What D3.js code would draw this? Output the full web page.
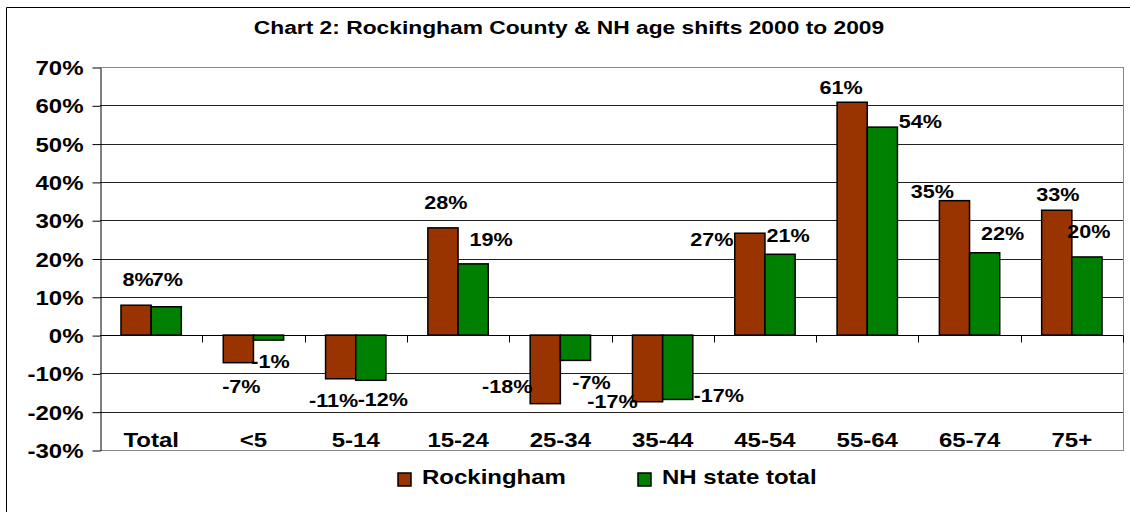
<!DOCTYPE html>
<html>
<head>
<meta charset="utf-8">
<style>
  body { margin: 0; background: #fff; }
  text { font-family: "Liberation Sans", Arial, sans-serif; font-weight: bold; fill: #000; }
</style>
</head>
<body>
<script src="https://d3js.org/d3.v7.min.js"></script>
<svg id="chart" width="1130" height="512"></svg>
<script>
// data (percent change 2000 -> 2009)
const categories = ["Total", "<5", "5-14", "15-24", "25-34", "35-44", "45-54", "55-64", "65-74", "75+"]
const seriesNames = ["Rockingham", "NH state total"]
const rockingham = [7.8, -7.2, -11.4, 28.0, -17.9, -17.4, 26.6, 60.8, 35.1, 32.6]
const nhTotal = [7.4, -1.3, -11.8, 18.6, -6.6, -16.8, 21.1, 54.3, 21.5, 20.4]
const yTicks = [-30, -20, -10, 0, 10, 20, 30, 40, 50, 60, 70]

// hand nudges of the value labels (dx, dy from the bar end), as placed in the original
const rockNudge = [[2,-19],[3,30],[-7,28],[3,-19],[-38,-11],[-35,6],[-38,13],[-11,-8],[-22,-3],[1,-9]]
const nhNudge = [[1,-21],[2,28],[12,26],[18,-18],[16,29],[41,3],[8,-12],[38,1],[18,-13],[2,-19]]

const red = "#993300", green = "#008000"
const stretch = 1.2   // the original chart is stretched sideways

const svg = d3.select("#chart")
const plotL = 100, plotR = 1123, plotT = 67, plotB = 450

// outer frame (only left and top edges show)
svg.append("path").attr("d", "M6.5,520 V7.5 H1140").attr("fill", "none").attr("stroke", "#000")

function stext(g, x, y, str, size, anchor) {
    return g.append("text")
        .attr("transform", `translate(${x},${y}) scale(${stretch},1)`)
        .attr("text-anchor", anchor || "middle")
        .style("font-size", size + "px")
        .text(str)
}

stext(svg, 569, 34, "Chart 2: Rockingham County & NH age shifts 2000 to 2009", 19)

const xScale = d3.scaleBand().domain(categories).range([plotL, plotR]).paddingInner(0.41).paddingOuter(0.205)
const xSub = d3.scaleBand().domain(seriesNames).range([0, xScale.bandwidth()])
const yScale = d3.scaleLinear().domain([-30, 70]).range([plotB, plotT])

// gridlines
svg.append("g").selectAll("line")
    .data(yTicks)
    .enter()
    .append("line")
    .attr("x1", plotL).attr("x2", plotR)
    .attr("y1", d => Math.round(yScale(d)) + 0.5)
    .attr("y2", d => Math.round(yScale(d)) + 0.5)
    .attr("stroke", d => (d == -30 || d == 70) ? "#888" : "#222")
svg.append("line")
    .attr("x1", plotR + 0.5).attr("x2", plotR + 0.5)
    .attr("y1", plotT).attr("y2", plotB + 1)
    .attr("stroke", "#888")

// y axis
const yAxis = d3.axisLeft(yScale).tickValues(yTicks).tickSize(8).tickSizeOuter(0)
    .tickFormat(d => d + "%")
const yG = svg.append("g").attr("transform", `translate(${plotL + 0.5},0.5)`).call(yAxis)
yG.select("path").attr("stroke", "#000")
yG.selectAll("line").attr("stroke", "#000")
yG.selectAll("text")
    .attr("x", null).attr("dy", null)
    .attr("transform", `translate(-17,7) scale(${stretch},1)`)
    .style("font-size", "20px")
    .style("font-family", "Liberation Sans, Arial, sans-serif")
    .style("font-weight", "bold")

// bars
const rows = categories.map((c, i) => ({ cat: c, vals: [rockingham[i], nhTotal[i]], nudges: [rockNudge[i], nhNudge[i]] }))
const groups = svg.selectAll("g.cat")
    .data(rows)
    .enter()
    .append("g")
    .attr("class", "cat")
    .attr("transform", d => `translate(${xScale(d.cat)},0)`)

groups.selectAll("rect")
    .data(d => d.vals.map((v, j) => ({ v: v, s: seriesNames[j] })))
    .enter()
    .append("rect")
    .attr("x", d => xSub(d.s))
    .attr("width", xSub.bandwidth())
    .attr("y", d => yScale(Math.max(0, d.v)))
    .attr("height", d => Math.abs(yScale(d.v) - yScale(0)))
    .attr("fill", (d, j) => j == 0 ? red : green)
    .attr("stroke", "#000")
    .attr("stroke-width", 1.5)

// zero axis line with category ticks
const y0 = Math.round(yScale(0)) + 0.5
svg.append("line").attr("x1", plotL).attr("x2", plotR).attr("y1", y0).attr("y2", y0).attr("stroke", "#000")
svg.append("g").selectAll("line")
    .data(categories.slice(1).concat(["end"]))
    .enter()
    .append("line")
    .attr("x1", (d, i) => Math.round(plotL + xScale.step() * (i + 1)) + 0.5)
    .attr("x2", (d, i) => Math.round(plotL + xScale.step() * (i + 1)) + 0.5)
    .attr("y1", y0).attr("y2", y0 + 7)
    .attr("stroke", "#000")

// value labels (plain hyphen for the minus, as in the original)
const fmt = v => Math.round(v) + "%"
rows.forEach(r => {
    r.vals.forEach((v, j) => {
        const cx = xScale(r.cat) + xSub(seriesNames[j]) + xSub.bandwidth() / 2
        const n = r.nudges[j]
        stext(svg, cx + n[0], yScale(v) + n[1], fmt(v), 18)
    })
})

// category labels along the bottom
categories.forEach(c => {
    stext(svg, xScale(c) + xScale.bandwidth() / 2, 447, c, 20)
})

// legend
const legend = [{ name: seriesNames[0], color: red, x: 398 }, { name: seriesNames[1], color: green, x: 638 }]
legend.forEach(l => {
    svg.append("rect").attr("x", l.x).attr("y", 473).attr("width", 13).attr("height", 13)
        .attr("fill", l.color).attr("stroke", "#000").attr("stroke-width", 1.5)
    stext(svg, l.x + 24, 484, l.name, 20, "start")
})
</script>
</body>
</html>
